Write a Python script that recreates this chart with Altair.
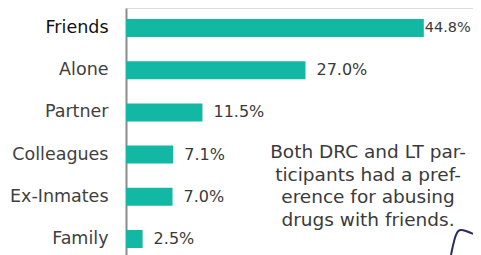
import altair as alt
import pandas as pd

categories = ["Friends", "Alone", "Partner", "Colleagues", "Ex-Inmates", "Family"]
values = [44.8, 27.0, 11.5, 7.1, 7.0, 2.5]
labels = ["44.8%", "27.0%", "11.5%", "7.1%", "7.0%", "2.5%"]
note_lines = ["Both DRC and LT par-", "ticipants had a pref-", "erence for abusing", "drugs with friends."]

df = pd.DataFrame({"cat": categories, "val": values, "lab": labels})

FONT = "DejaVu Sans"
TEAL = "#12b8a4"
TXT = "#3a3a3a"

y_enc = alt.Y("cat:N", sort=categories, title=None,
              scale=alt.Scale(paddingInner=0.573, paddingOuter=0.26),
              axis=alt.Axis(domainColor="#8a8a8a", domainWidth=2, ticks=False,
                            labelFont=FONT, labelFontSize=17.5, labelPadding=18,
                            labelColor=alt.expr("datum.value == 'Friends' ? '#111111' : '#404040'"),
                            labelLimit=200))
x_enc = alt.X("val:Q", scale=alt.Scale(domain=[0, 52.2]), axis=None)

bars = alt.Chart(df).mark_bar(color=TEAL).encode(x=x_enc, y=y_enc)

txt_first = alt.Chart(df).transform_filter(alt.datum.cat == "Friends").mark_text(
    align="left", baseline="middle", dx=1, font=FONT, fontSize=14.5, color=TXT
).encode(x=x_enc, y=y_enc, text="lab:N")

txt_rest = alt.Chart(df).transform_filter(alt.datum.cat != "Friends").mark_text(
    align="left", baseline="middle", dx=11, font=FONT, fontSize=16, color=TXT
).encode(x=x_enc, y=y_enc, text="lab:N")

note = alt.Chart(pd.DataFrame({"a": [0]})).mark_text(
    align="center", baseline="alphabetic", font=FONT, fontSize=18.5, color=TXT, lineHeight=22.7
).encode(x=alt.value(242), y=alt.value(150), text=alt.value(note_lines))

curve_df = pd.DataFrame({"px": [325, 328, 332, 338, 355], "py": [247, 232, 221, 222, 229]})
curve = alt.Chart(curve_df).mark_line(color="#2e2a66", strokeWidth=2, interpolate="basis").encode(
    x=alt.X("px:Q", scale=None), y=alt.Y("py:Q", scale=None)
)

chart = alt.layer(bars, txt_first, txt_rest, note, curve).properties(
    width=347, height=251,
    autosize=alt.AutoSizeParams(type="none"),
    padding={"left": 118, "top": 0, "right": 0, "bottom": 0}
).configure_view(stroke=None).configure(background="white")

chart.save("out.html", embed_options={"renderer": "svg", "actions": False})
